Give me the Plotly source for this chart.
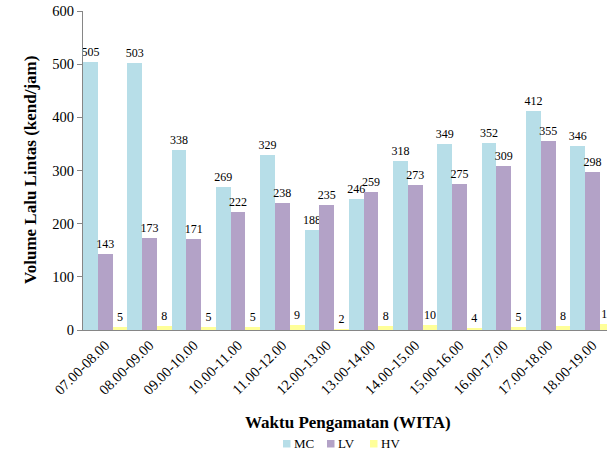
import plotly.graph_objects as go

categories = ["07.00-08.00", "08.00-09.00", "09.00-10.00", "10.00-11.00", "11.00-12.00",
              "12.00-13.00", "13.00-14.00", "14.00-15.00", "15.00-16.00", "16.00-17.00",
              "17.00-18.00", "18.00-19.00"]
mc = [505, 503, 338, 269, 329, 188, 246, 318, 349, 352, 412, 346]
lv = [143, 173, 171, 222, 238, 235, 259, 273, 275, 309, 355, 298]
hv = [5, 8, 5, 5, 9, 2, 8, 10, 4, 5, 8, 12]
series_names = ["MC", "LV", "HV"]
series_colors = ["#B7DEE8", "#B3A2C7", "#FFFF99"]

FONT = "Liberation Serif"

W, H = 607, 452
ML, MT, MB, MR = 83, 11, 122, 0
PW, PH = W - ML - MR, H - MT - MB


def px2x(px):
    return (px - ML) / PW


def px2y(py):
    return (H - MB - py) / PH


fig = go.Figure()
for name, vals, color in zip(series_names, [mc, lv, hv], series_colors):
    fig.add_trace(go.Bar(
        x=categories, y=vals, name=name,
        marker=dict(color=color, line=dict(width=0)),
        text=[str(v) for v in vals], textposition="outside",
        textfont=dict(family=FONT, size=12, color="#000000"),
        constraintext="none",
        cliponaxis=True,
        showlegend=False,
    ))

# legend drawn as keys + labels
shapes = []
annotations = []
legend_sq_left = [283, 327, 370]
for name, color, sx in zip(series_names, series_colors, legend_sq_left):
    shapes.append(dict(type="rect", xref="paper", yref="paper",
                       x0=px2x(sx), x1=px2x(sx + 7.5), y0=px2y(447.5), y1=px2y(440),
                       fillcolor=color, line=dict(width=0)))
    annotations.append(dict(text=name, xref="paper", yref="paper",
                            x=px2x(sx + 8.5), y=px2y(443.5), xanchor="left", yanchor="middle",
                            showarrow=False, font=dict(family=FONT, size=13, color="#000000")))

annotations += [
    dict(text="<b>Waktu Pengamatan (WITA)</b>", xref="paper", yref="paper",
         x=px2x(348), y=px2y(422), xanchor="center", yanchor="middle", showarrow=False,
         font=dict(family=FONT, size=17, color="#000000")),
    dict(text="<b>Volume Lalu Lintas (kend/jam)</b>", xref="paper", yref="paper",
         x=px2x(30), y=px2y(170), xanchor="center", yanchor="middle", showarrow=False,
         textangle=-90, font=dict(family=FONT, size=17, color="#000000")),
]

fig.update_layout(
    width=W, height=H,
    margin=dict(l=ML, r=MR, t=MT, b=MB, pad=0, autoexpand=False),
    barmode="group", bargap=0, bargroupgap=0,
    plot_bgcolor="white", paper_bgcolor="white",
    font=dict(family=FONT, size=14, color="#000000"),
    showlegend=False,
    xaxis=dict(range=[-0.5, -0.5 + PW / 44.3], tickangle=-45, showline=True,
               linecolor="#868686", linewidth=1, ticks="", showgrid=False,
               tickfont=dict(family=FONT, size=14.5), fixedrange=True, automargin=False),
    yaxis=dict(range=[0, 600], dtick=100, showline=True, linecolor="#868686", linewidth=1,
               ticks="outside", ticklen=5, tickcolor="#868686", showgrid=False, zeroline=False,
               tickfont=dict(family=FONT, size=14.5), fixedrange=True, automargin=False,
               ticklabeloverflow="allow"),
    shapes=shapes,
    annotations=annotations,
)

fig.write_html("out.html",
               config=dict(displayModeBar=False, staticPlot=True),
               post_script="document.body.style.margin='0';document.body.style.overflow='hidden';")
